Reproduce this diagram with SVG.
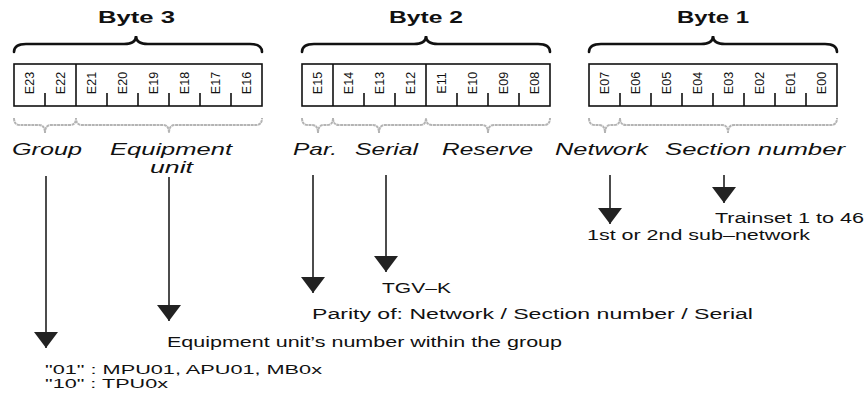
<svg xmlns="http://www.w3.org/2000/svg" width="867" height="394" viewBox="0 0 867 394">
<style>
text{font-family:"Liberation Sans",Arial,Helvetica,sans-serif;fill:#111}
.byte{font-weight:bold;font-size:16.5px}
.field{font-style:italic;font-size:17px}
.desc{font-size:14px}
.small{font-size:12.5px}
.bit{font-size:12.5px}
.box{fill:#fff;stroke:#111;stroke-width:1.6}
.tick{stroke:#111;stroke-width:1.6}
.brace{fill:none;stroke:#111;stroke-width:2.6;stroke-linecap:round}
.gbrace{fill:none;stroke:#b4b4b4;stroke-width:2;stroke-dasharray:3 0.6}
.conn{stroke:#111;stroke-width:1.5;fill:none}
</style>
<defs>
<marker id="ah" markerUnits="userSpaceOnUse" viewBox="0 0 16 24" markerWidth="16" markerHeight="24" refX="16" refY="12" orient="auto">
<path d="M0,0 L16,12 L0,24 Z" fill="#222"/>
</marker>
</defs>

<g id="byte3">
<text class="byte" x="98" y="23" textLength="77" lengthAdjust="spacingAndGlyphs">Byte 3</text>
<path class="brace" d="M14,52 Q14,44 26,44 L124,44 Q136,44 136,36 Q136,44 148,44 L250,44 Q262,44 262,52"/>
<rect class="box" x="14" y="64" width="248" height="42"/>
<line class="tick" x1="76" y1="64" x2="76" y2="106"/>
<path class="tick" d="M45,106V93 M107,106V93 M138,106V93 M169,106V93 M200,106V93 M231,106V93"/>
<g class="bit" text-anchor="middle">
<text transform="translate(33.5,83) rotate(-90)">E23</text>
<text transform="translate(64.5,83) rotate(-90)">E22</text>
<text transform="translate(95.5,83) rotate(-90)">E21</text>
<text transform="translate(126.5,83) rotate(-90)">E20</text>
<text transform="translate(157.5,83) rotate(-90)">E19</text>
<text transform="translate(188.5,83) rotate(-90)">E18</text>
<text transform="translate(219.5,83) rotate(-90)">E17</text>
<text transform="translate(250.5,83) rotate(-90)">E16</text>
</g>
<path class="gbrace" d="M14,118 Q14,125 20,125 L39,125 Q45,125 45,133 Q45,125 51,125 L70,125 Q76,125 76,118 Q76,125 82,125 L163,125 Q169,125 169,133 Q169,125 175,125 L256,125 Q262,125 262,118"/>
</g>

<g id="byte2">
<text class="byte" x="389" y="23" textLength="74" lengthAdjust="spacingAndGlyphs">Byte 2</text>
<path class="brace" d="M302,52 Q302,44 314,44 L414,44 Q426,44 426,36 Q426,44 438,44 L538,44 Q550,44 550,52"/>
<rect class="box" x="302" y="64" width="248" height="42"/>
<path class="tick" d="M333,64V106 M426,64V106"/>
<path class="tick" d="M364,106V93 M395,106V93 M457,106V93 M488,106V93 M519,106V93"/>
<g class="bit" text-anchor="middle">
<text transform="translate(321.5,83) rotate(-90)">E15</text>
<text transform="translate(352.5,83) rotate(-90)">E14</text>
<text transform="translate(383.5,83) rotate(-90)">E13</text>
<text transform="translate(414.5,83) rotate(-90)">E12</text>
<text transform="translate(445.5,83) rotate(-90)">E11</text>
<text transform="translate(476.5,83) rotate(-90)">E10</text>
<text transform="translate(507.5,83) rotate(-90)">E09</text>
<text transform="translate(538.5,83) rotate(-90)">E08</text>
</g>
<path class="gbrace" d="M302,118 Q302,125 308,125 L312,125 Q318,125 318,133 Q318,125 324,125 L327,125 Q333,125 333,118 Q333,125 339,125 L373,125 Q379,125 379,133 Q379,125 385,125 L420,125 Q426,125 426,118 Q426,125 432,125 L482,125 Q488,125 488,133 Q488,125 494,125 L544,125 Q550,125 550,118"/>
</g>

<g id="byte1">
<text class="byte" x="677" y="23" textLength="72" lengthAdjust="spacingAndGlyphs">Byte 1</text>
<path class="brace" d="M589,52 Q589,44 601,44 L701,44 Q713,44 713,36 Q713,44 725,44 L825,44 Q837,44 837,52"/>
<rect class="box" x="589" y="64" width="248" height="42"/>
<path class="tick" d="M620,106V93 M651,106V93 M682,106V93 M713,106V93 M744,106V93 M775,106V93 M806,106V93"/>
<g class="bit" text-anchor="middle">
<text transform="translate(608.5,83) rotate(-90)">E07</text>
<text transform="translate(639.5,83) rotate(-90)">E06</text>
<text transform="translate(670.5,83) rotate(-90)">E05</text>
<text transform="translate(701.5,83) rotate(-90)">E04</text>
<text transform="translate(732.5,83) rotate(-90)">E03</text>
<text transform="translate(763.5,83) rotate(-90)">E02</text>
<text transform="translate(794.5,83) rotate(-90)">E01</text>
<text transform="translate(825.5,83) rotate(-90)">E00</text>
</g>
<path class="gbrace" d="M589,118 Q589,125 595,125 L599,125 Q605,125 605,133 Q605,125 611,125 L614,125 Q620,125 620,118 Q620,125 626,125 L722,125 Q728,125 728,133 Q728,125 734,125 L831,125 Q837,125 837,118"/>
</g>

<g id="fields">
<text class="field" x="12" y="155" textLength="70" lengthAdjust="spacingAndGlyphs">Group</text>
<text class="field" x="110" y="155" textLength="122" lengthAdjust="spacingAndGlyphs">Equipment</text>
<text class="field" x="150" y="173" textLength="43" lengthAdjust="spacingAndGlyphs">unit</text>
<text class="field" x="293" y="155" textLength="44" lengthAdjust="spacingAndGlyphs">Par.</text>
<text class="field" x="355" y="155" textLength="63" lengthAdjust="spacingAndGlyphs">Serial</text>
<text class="field" x="442" y="155" textLength="91" lengthAdjust="spacingAndGlyphs">Reserve</text>
<text class="field" x="555" y="155" textLength="93" lengthAdjust="spacingAndGlyphs">Network</text>
<text class="field" x="665" y="155" textLength="180" lengthAdjust="spacingAndGlyphs">Section number</text>
</g>

<g id="connectors">
<line class="conn" x1="46" y1="176" x2="46" y2="348" marker-end="url(#ah)"/>
<line class="conn" x1="169" y1="177" x2="169" y2="321" marker-end="url(#ah)"/>
<line class="conn" x1="313" y1="175" x2="313" y2="293" marker-end="url(#ah)"/>
<line class="conn" x1="386" y1="175" x2="386" y2="272" marker-end="url(#ah)"/>
<line class="conn" x1="610" y1="175" x2="610" y2="224" marker-end="url(#ah)"/>
<line class="conn" x1="724" y1="175" x2="724" y2="203" marker-end="url(#ah)"/>
</g>

<g id="descriptions">
<text class="desc" x="715" y="223" textLength="149" lengthAdjust="spacingAndGlyphs">Trainset 1 to 46</text>
<text class="desc" x="587" y="240" textLength="223" lengthAdjust="spacingAndGlyphs">1st or 2nd sub–network</text>
<text class="desc" x="382" y="293" textLength="69" lengthAdjust="spacingAndGlyphs">TGV–K</text>
<text class="desc" x="312" y="319" textLength="441" lengthAdjust="spacingAndGlyphs">Parity of: Network / Section number / Serial</text>
<text class="desc" x="167" y="347" textLength="395" lengthAdjust="spacingAndGlyphs">Equipment unit’s number within the group</text>
<text class="desc small" x="45" y="373.5" textLength="277" lengthAdjust="spacingAndGlyphs">"01" : MPU01, APU01, MB0x</text>
<text class="desc small" x="45" y="388" textLength="123" lengthAdjust="spacingAndGlyphs">"10" : TPU0x</text>
</g>
</svg>
